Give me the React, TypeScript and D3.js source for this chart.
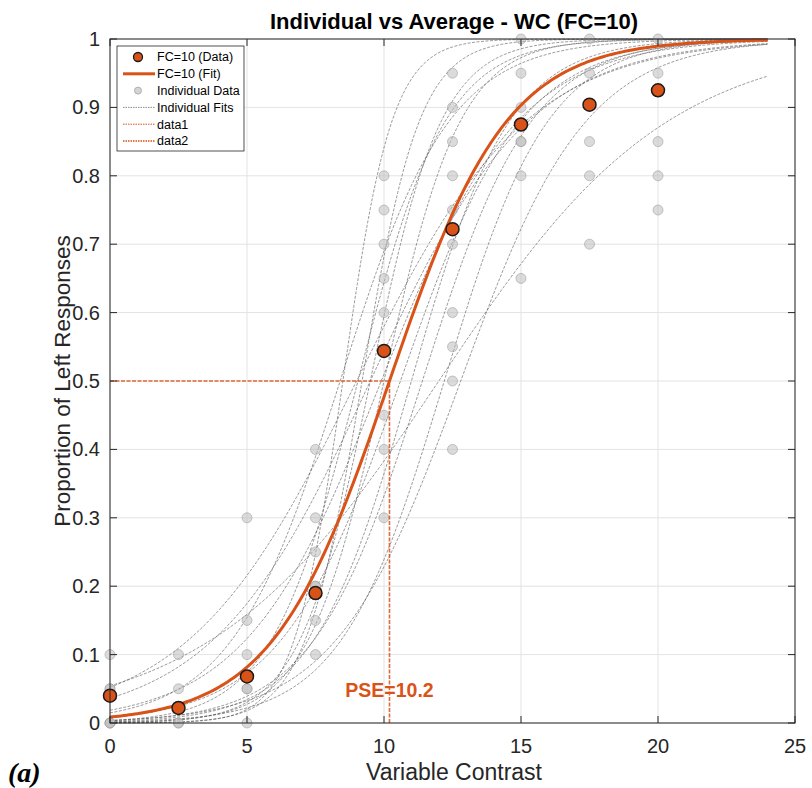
import React from "react";
import * as d3 from "d3";

// ---- data ----
const levels = [0, 2.5, 5, 7.5, 10, 12.5, 15, 17.5, 20];
const avgProp = [0.04, 0.022, 0.068, 0.19, 0.544, 0.722, 0.875, 0.904, 0.925];
// individual proportions at each level (duplicates give darker dots)
const indiv0 = [0, 0, 0, 0.05, 0.05, 0.1];
const indiv25 = [0, 0, 0.05, 0.1];
const indiv5 = [0, 0.05, 0.05, 0.1, 0.15, 0.3];
const indiv75 = [0.1, 0.15, 0.2, 0.2, 0.25, 0.3, 0.4];
const indiv10 = [0.3, 0.4, 0.45, 0.6, 0.65, 0.7, 0.75, 0.8];
const indiv125 = [0.4, 0.5, 0.55, 0.6, 0.7, 0.75, 0.8, 0.85, 0.9, 0.95];
const indiv15 = [0.65, 0.8, 0.85, 0.85, 0.9, 0.95, 1.0];
const indiv175 = [0.7, 0.8, 0.85, 0.95, 1.0];
const indiv20 = [0.75, 0.8, 0.85, 0.95, 1.0];
const indivByLevel = [indiv0, indiv25, indiv5, indiv75, indiv10, indiv125, indiv15, indiv175, indiv20];

// fitted logistic parameters (PSE, spread)
const groupPSE = 10.2;
const groupSpread = 2.15;
const indivPSE = [12.0, 9.0, 9.5, 8.4, 9.9, 10.6, 11.4, 12.2, 12.8, 9.05, 9.5, 10.0, 11.0, 8.5, 9.2];
const indivSpread = [4.2, 3.1, 2.9, 2.0, 2.5, 2.2, 2.0, 1.9, 2.3, 1.6, 1.3, 1.4, 1.8, 0.9, 1.05];
const fitRange = [0, 24];

const xTicks = [0, 5, 10, 15, 20, 25];
const yTicks = [0, 0.1, 0.2, 0.3, 0.4, 0.5, 0.6, 0.7, 0.8, 0.9, 1];
const yTickLabels = ["0", "0.1", "0.2", "0.3", "0.4", "0.5", "0.6", "0.7", "0.8", "0.9", "1"];

const legendLabels = ["FC=10 (Data)", "FC=10 (Fit)", "Individual Data", "Individual Fits", "data1", "data2"];

const ORANGE = "#D95319";
const FONT = "'Liberation Sans', Arial, Helvetica, sans-serif";

export default function App() {
  const W = 812, H = 788;
  const L = 110, R = 795, T = 39, B = 723;
  const x = d3.scaleLinear().domain([0, 25]).range([L, R]);
  const y = d3.scaleLinear().domain([0, 1]).range([B, T]);

  const logistic = (pse: number, s: number) => (v: number) => 1 / (1 + Math.exp(-(v - pse) / s));
  const xs = d3.range(fitRange[0], fitRange[1] + 0.0001, 0.1);
  const line = d3
    .line<number[]>()
    .x((d) => x(d[0]))
    .y((d) => y(d[1]));
  const curve = (pse: number, s: number) => {
    const f = logistic(pse, s);
    return line(xs.map((v) => [v, f(v)])) || "";
  };

  const tickLen = 7;
  const legX = 117, legY = 46, legW = 127, legH = 105;
  const rowY = (i: number) => 57 + i * 16.8;

  return (
    <svg width={W} height={H} style={{ position: "absolute", left: 0, top: 0, background: "#fff" }} fontFamily={FONT}>
      <rect x={0} y={0} width={W} height={H} fill="#fff" />
      {/* grid */}
      {xTicks.map((t) => (
        <line key={"gx" + t} x1={x(t)} x2={x(t)} y1={T} y2={B} stroke="#e3e3e3" strokeWidth={1} />
      ))}
      {yTicks.map((t) => (
        <line key={"gy" + t} x1={L} x2={R} y1={y(t)} y2={y(t)} stroke="#e3e3e3" strokeWidth={1} />
      ))}

      {/* individual fits */}
      {indivPSE.map((p, i) => (
        <path key={"if" + i} d={curve(p, indivSpread[i])} fill="none" stroke="#555" strokeWidth={0.8}
          strokeDasharray="3 1.5" opacity={0.75} />
      ))}

      {/* individual data */}
      {indivByLevel.map((arr, i) =>
        arr.map((v, j) => (
          <circle key={"id" + i + "-" + j} cx={x(levels[i])} cy={y(v)} r={5} fill="#bdbdbd" fillOpacity={0.55}
            stroke="#9a9a9a" strokeOpacity={0.55} strokeWidth={1} />
        ))
      )}

      {/* PSE lines */}
      <line x1={x(0)} x2={x(groupPSE)} y1={y(0.5)} y2={y(0.5)} stroke={ORANGE} strokeWidth={1.3} strokeDasharray="4 1.5" opacity={0.85} />
      <line x1={x(groupPSE)} x2={x(groupPSE)} y1={y(0)} y2={y(0.5)} stroke={ORANGE} strokeWidth={1.6} strokeDasharray="4 1.5" opacity={0.85} />

      {/* group fit */}
      <path d={curve(groupPSE, groupSpread)} fill="none" stroke={ORANGE} strokeWidth={3} />

      {/* group data */}
      {levels.map((lv, i) => (
        <circle key={"gd" + i} cx={x(lv)} cy={y(avgProp[i])} r={6.5} fill={ORANGE} stroke="#1a1a1a" strokeWidth={1.5} />
      ))}

      {/* PSE label */}
      <text x={x(groupPSE)} y={697} textAnchor="middle" fontSize={19.5} fontWeight="bold" fill={ORANGE}>
        {"PSE=" + groupPSE.toFixed(1)}
      </text>

      {/* axes box */}
      <rect x={L} y={T} width={R - L} height={B - T} fill="none" stroke="#262626" strokeWidth={1} />
      {xTicks.map((t) => (
        <g key={"tx" + t}>
          <line x1={x(t)} x2={x(t)} y1={B} y2={B - tickLen} stroke="#262626" />
          <line x1={x(t)} x2={x(t)} y1={T} y2={T + tickLen} stroke="#262626" />
          <text x={x(t)} y={753} textAnchor="middle" fontSize={20} fill="#262626">{t}</text>
        </g>
      ))}
      {yTicks.map((t, i) => (
        <g key={"ty" + t}>
          <line x1={L} x2={L + tickLen} y1={y(t)} y2={y(t)} stroke="#262626" />
          <line x1={R} x2={R - tickLen} y1={y(t)} y2={y(t)} stroke="#262626" />
          <text x={100} y={y(t) + 7} textAnchor="end" fontSize={20} fill="#262626">{yTickLabels[i]}</text>
        </g>
      ))}

      {/* labels */}
      <text x={454} y={29} textAnchor="middle" fontSize={22} fontWeight="bold" fill="#000">
        Individual vs Average - WC (FC=10)
      </text>
      <text x={454} y={780} textAnchor="middle" fontSize={23} fill="#262626">Variable Contrast</text>
      <text transform={`translate(70, ${(T + B) / 2}) rotate(-90)`} textAnchor="middle" fontSize={22.5} fill="#262626">
        Proportion of Left Responses
      </text>
      <text x={8} y={782} fontSize={28} fontWeight="bold" fontStyle="italic" fontFamily="'Liberation Serif', 'Times New Roman', serif">(a)</text>

      {/* legend */}
      <rect x={legX} y={legY} width={legW} height={legH} fill="#fff" stroke="#262626" strokeWidth={0.8} />
      <circle cx={138} cy={rowY(0)} r={4.5} fill={ORANGE} stroke="#1a1a1a" strokeWidth={1.3} />
      <line x1={123} x2={155} y1={rowY(1)} y2={rowY(1)} stroke={ORANGE} strokeWidth={3} />
      <circle cx={138} cy={rowY(2)} r={3.5} fill="#d4d4d4" stroke="#b0b0b0" strokeWidth={1} />
      <line x1={123} x2={155} y1={rowY(3)} y2={rowY(3)} stroke="#707070" strokeWidth={0.8} strokeDasharray="1.5 1" />
      <line x1={123} x2={155} y1={rowY(4)} y2={rowY(4)} stroke={ORANGE} strokeWidth={1} strokeDasharray="1.5 1" />
      <line x1={123} x2={155} y1={rowY(5)} y2={rowY(5)} stroke={ORANGE} strokeWidth={1.5} strokeDasharray="1.5 1" />
      {legendLabels.map((s, i) => (
        <text key={"lg" + i} x={157} y={rowY(i) + 4.3} fontSize={12.5} fill="#000">{s}</text>
      ))}
    </svg>
  );
}
